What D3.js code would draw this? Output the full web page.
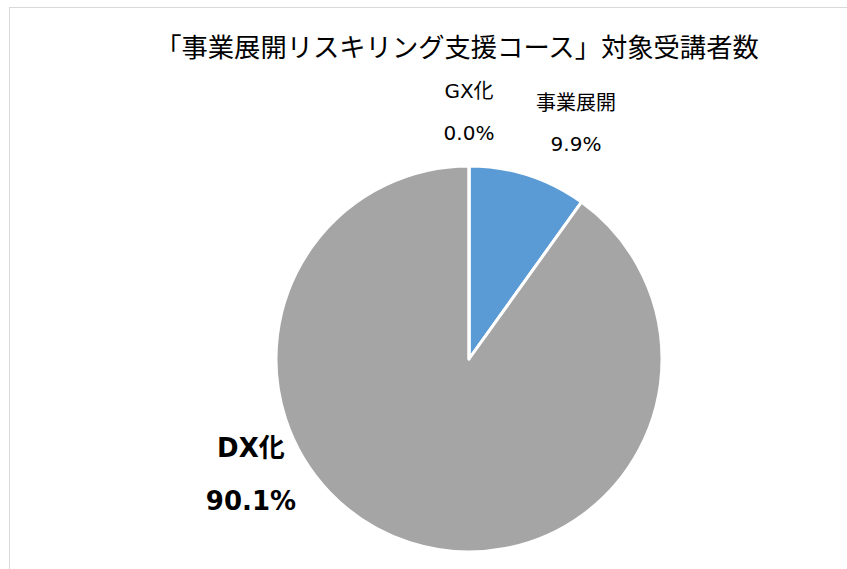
<!DOCTYPE html>
<html>
<head>
<meta charset="utf-8">
<script src="https://cdn.jsdelivr.net/npm/d3@7"></script>
<style>
  body { margin: 0; background: #fff; }
  svg { display: block; font-family: "DejaVu Sans", "Noto Sans CJK JP", sans-serif; }
</style>
</head>
<body>
<svg id="chart"></svg>
<script>
const title = "「事業展開リスキリング支援コース」対象受講者数";
const categories = ["事業展開", "DX化", "GX化"];
const values = [9.9, 90.1, 0.0];
const colors = ["#5B9BD5", "#A5A5A5", "#ED7D31"];

const w = 847, h = 569;
const cx = 469, cy = 359, r = 193;

const svg = d3.select("#chart")
  .attr("width", w)
  .attr("height", h);

// chart frame
svg.append("rect")
  .attr("x", 9.5).attr("y", 7.5)
  .attr("width", w + 20).attr("height", h + 20)
  .attr("fill", "none")
  .attr("stroke", "#d9d9d9");

svg.append("text")
  .attr("x", 457).attr("y", 45)
  .attr("text-anchor", "middle")
  .attr("dominant-baseline", "central")
  .style("font-family", "'Noto Sans CJK JP', sans-serif")
  .style("font-size", "26.3px")
  .attr("fill", "#000")
  .text(title);

const data = categories.map((c, i) => ({ name: c, value: values[i], color: colors[i] }));

const pie = d3.pie().sort(null).value(d => d.value);
const arcs = pie(data);
const arc = d3.arc().innerRadius(0).outerRadius(r);

const g = svg.append("g").attr("transform", `translate(${cx},${cy})`);

g.selectAll("path")
  .data(arcs)
  .join("path")
  .attr("d", arc)
  .attr("fill", d => d.data.color)
  .attr("stroke", "#fff")
  .attr("stroke-width", 3)
  .attr("stroke-linejoin", "round");

// label placement (best fit, outside the pie)
const labelPos = {
  "事業展開": { angle: 24.4, radius: 259, gap: 41, size: 20, weight: "normal" },
  "GX化":   { angle: 0,    radius: 247, gap: 42, size: 20, weight: "normal" },
  "DX化":   { angle: 242, radius: 247, gap: 53, size: 26, weight: "bold" }
};
const fmt = d3.format(".1f");

const labels = g.selectAll("g.label")
  .data(arcs)
  .join("g")
  .attr("class", "label")
  .attr("transform", d => {
    const p = labelPos[d.data.name];
    const a = p.angle * Math.PI / 180;
    return `translate(${p.radius * Math.sin(a)},${-p.radius * Math.cos(a)})`;
  });

labels.append("text")
  .attr("text-anchor", "middle")
  .attr("dominant-baseline", "central")
  .attr("y", d => -labelPos[d.data.name].gap / 2)
  .style("font-size", d => labelPos[d.data.name].size + "px")
  .style("font-weight", d => labelPos[d.data.name].weight)
  .attr("fill", "#000")
  .text(d => d.data.name);

labels.append("text")
  .attr("text-anchor", "middle")
  .attr("dominant-baseline", "central")
  .attr("y", d => labelPos[d.data.name].gap / 2)
  .style("font-size", d => labelPos[d.data.name].size + "px")
  .style("font-weight", d => labelPos[d.data.name].weight)
  .attr("fill", "#000")
  .text(d => fmt(d.data.value) + "%");
</script>
</body>
</html>
